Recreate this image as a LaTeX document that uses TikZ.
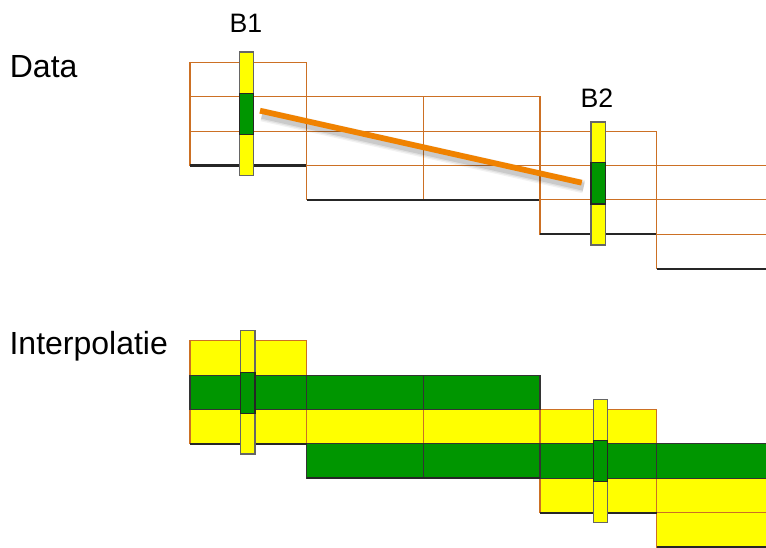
\documentclass[tikz,border=0pt]{standalone}
\usepackage{fontspec}
\setmainfont{Liberation Sans}
\begin{document}
\begin{tikzpicture}[x=0.75pt,y=-0.75pt,
  cellline/.style={draw=cellc,line width=0.85pt},
  baseline/.style={draw=black!85,line width=1.6pt},
  ycell/.style={fill=yel,draw=cellc,line width=0.85pt},
  gcell/.style={fill=grn,draw=black!80,line width=0.85pt},
  barbox/.style={fill=yel,draw=black!60,line width=1pt},
  bargreen/.style={fill=grn,draw=black!85,line width=1pt},
  bigtxt/.style={inner sep=0pt,font=\fontsize{24}{28}\selectfont},
  smalltxt/.style={inner sep=0pt,font=\fontsize{20}{24}\selectfont}]
\definecolor{cellc}{RGB}{204,112,36}
\definecolor{yel}{RGB}{255,255,0}
\definecolor{grn}{RGB}{0,150,0}
\definecolor{orl}{RGB}{240,130,0}
\useasboundingbox (0,0) rectangle (766,547);
\clip (0,0) rectangle (766,547);

% ---------- labels
\node[bigtxt,anchor=base west] (data) at (9.6,77.3) {Data};
\node[bigtxt,anchor=base west] (interp) at (9.3,354) {Interpolatie};
\node[smalltxt,anchor=base] (b1) at (246,32.3) {B1};
\node[smalltxt,anchor=base] (b2) at (597,107.3) {B2};

% ---------- data grid
\foreach \k/\a/\b in {0/190/306.7, 1/306.7/423.3, 1/423.3/540, 2/540/656.7, 3/656.7/772}{
  \pgfmathsetmacro{\t}{62.3+34.4*\k}
  \foreach \r in {0,1,2}{
    \pgfmathsetmacro{\ya}{\t+34.4*\r}
    \pgfmathsetmacro{\yb}{\ya+34.4}
    \draw[cellline] (\a,\ya) rectangle (\b,\yb);
  }
  \pgfmathsetmacro{\yb}{\t+103.2}
  \draw[baseline] (\a,\yb) -- (\b,\yb);
}

% orange line with soft shadow
\coordinate (ls) at (260,110.7);
\coordinate (le) at (581.7,182.7);
\foreach \w/\o in {10/0.05,8/0.07,6/0.1}{
  \draw[black,opacity=\o,line width=\w pt] ([shift={(2,4)}]ls) -- ([shift={(2,4)}]le);
}
\draw[orl,line width=4.3pt] (ls) -- (le);

% data bars
\draw[barbox] (239.5,52) rectangle (253.8,175.7);
\draw[bargreen] (239.5,93.3) rectangle (253.8,134.3);
\draw[barbox] (590.9,122) rectangle (605.4,245);
\draw[bargreen] (590.9,162.7) rectangle (605.4,204);

% ---------- interpolation
\foreach \a/\b/\y in {190/306.7/340.7, 190/306.7/409.5,
                      306.7/423.3/409.5, 423.3/540/409.5,
                      540/656.7/409.5, 540/656.7/478.3,
                      656.7/772/478.3, 656.7/772/512.7}{
  \pgfmathsetmacro{\yb}{\y+34.4}
  \draw[ycell] (\a,\y) rectangle (\b,\yb);
}
\foreach \a/\b/\y in {190/306.7/375.1,
                      306.7/423.3/375.1, 423.3/540/375.1,
                      306.7/423.3/443.9, 423.3/540/443.9,
                      540/656.7/443.9, 656.7/772/443.9}{
  \pgfmathsetmacro{\yb}{\y+34.4}
  \draw[gcell] (\a,\y) rectangle (\b,\yb);
}
\draw[baseline] (190,443.9) -- (306.7,443.9);
\draw[baseline] (306.7,478.3) -- (540,478.3);
\draw[baseline] (540,512.7) -- (656.7,512.7);
\draw[baseline] (656.7,547.1) -- (772,547.1);

% interpolation bars
\draw[barbox] (240.7,330.7) rectangle (255,454);
\draw[bargreen] (240.7,372.3) rectangle (255,413.3);
\draw[barbox] (593.3,399.3) rectangle (607.3,522.7);
\draw[bargreen] (593.3,440.7) rectangle (607.3,481.7);
\end{tikzpicture}
\end{document}
